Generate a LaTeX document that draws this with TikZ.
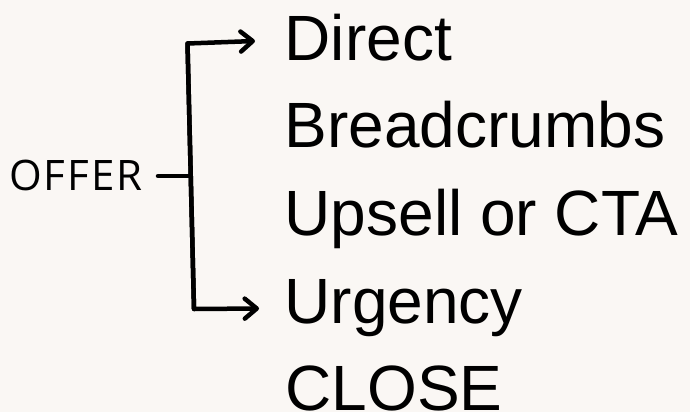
\documentclass[tikz,border=0pt]{standalone}
\usepackage{fontspec}
\setmainfont{Liberation Sans}
\newfontfamily\offerfont[LetterSpace=5]{Open Sans}
\usetikzlibrary{arrows.meta}
\definecolor{bg}{HTML}{FAF7F4}
\begin{document}
\begin{tikzpicture}[x=1pt,y=-1pt,
  item/.style={anchor=base west,inner sep=0pt,font=\fontsize{64}{64}\selectfont},
  lbl/.style={anchor=base west,inner sep=0pt,font=\offerfont\fontsize{42}{42}\selectfont},
  wire/.style={line width=4.5pt,line cap=round,line join=round},
  arr/.style={wire,-{Straight Barb[length=12pt,width=20pt,line cap=round,line join=round]}}]
\fill[bg] (0,0) rectangle (690,412);
\useasboundingbox (0,0) rectangle (690,412);
\node[lbl] (offer) at (9,190.5) {OFFER};
\node[item] (direct) at (284.5,60) {Direct};
\node[item] (bread) at (284.5,147) {Breadcrumbs};
\node[item] (upsell) at (284.5,235) {Upsell or CTA};
\node[item] (urgency) at (284.5,323) {Urgency};
\node[item] (close) at (285.5,410) {CLOSE};
\coordinate (stub) at (158,176);
\coordinate (mid) at (190.5,176);
\coordinate (topc) at (187.5,43.5);
\coordinate (botc) at (194,309);
\coordinate (toptip) at (255,41);
\coordinate (bottip) at (259,308.5);
\draw[wire] (stub) -- (mid);
\draw[arr] (botc) -- (topc) -- (toptip);
\draw[arr] (topc) -- (botc) -- (bottip);
\end{tikzpicture}
\end{document}
